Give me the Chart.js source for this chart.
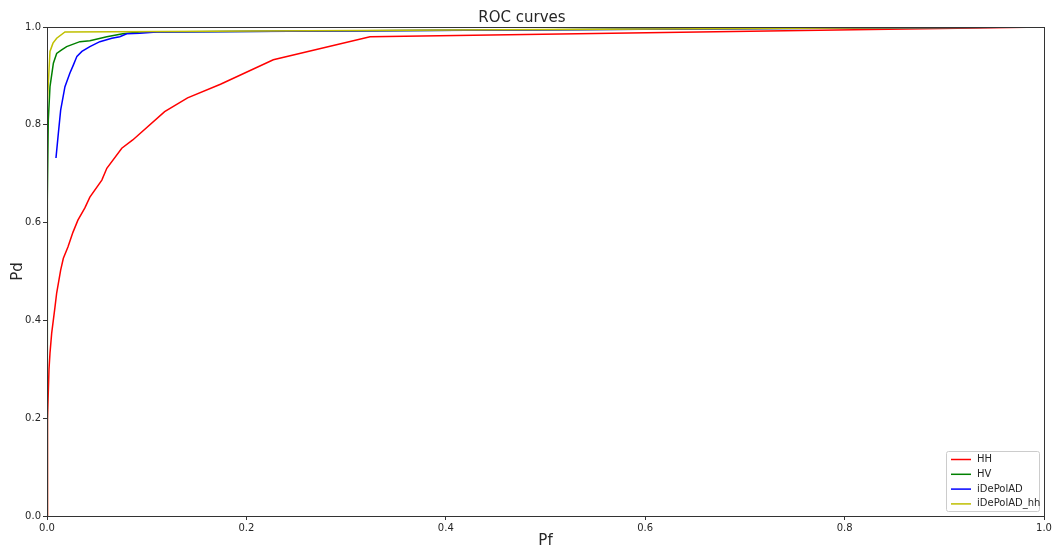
<!DOCTYPE html>
<html>
<head>
<meta charset="utf-8">
<script src="https://cdn.jsdelivr.net/npm/chart.js@4"></script>
<style>
  html, body { margin: 0; padding: 0; background: #fff; }
  #wrap { width: 1057px; height: 550px; }
</style>
</head>
<body>
<div id="wrap"><canvas id="roc"></canvas></div>
<script>
const seriesNames = ['HH', 'HV', 'iDePolAD', 'iDePolAD_hh'];
const seriesColors = ['#ff0000', '#008000', '#0000ff', '#bfbf00'];

const hhPf = [0, 0.0005, 0.002, 0.003, 0.0047, 0.008, 0.0097, 0.0137, 0.0164, 0.021, 0.026, 0.031, 0.038, 0.043, 0.055, 0.06, 0.075, 0.086, 0.118, 0.141, 0.174, 0.227, 0.324, 1];
const hhPd = [0, 0.2, 0.3, 0.333, 0.374, 0.427, 0.456, 0.503, 0.527, 0.55, 0.58, 0.605, 0.63, 0.652, 0.687, 0.711, 0.752, 0.769, 0.827, 0.855, 0.883, 0.933, 0.98, 1];

const hvPf = [0, 0.0003, 0.0013, 0.003, 0.0064, 0.0097, 0.0147, 0.0197, 0.033, 0.043, 0.06, 0.076, 0.093, 1];
const hvPd = [0, 0.646, 0.81, 0.878, 0.926, 0.946, 0.953, 0.96, 0.97, 0.972, 0.98, 0.986, 0.99, 1];

const adPf = [0.009, 0.0114, 0.0137, 0.018, 0.023, 0.0264, 0.03, 0.035, 0.043, 0.053, 0.065, 0.073, 0.08, 0.093, 0.11, 1];
const adPd = [0.732, 0.783, 0.83, 0.878, 0.906, 0.922, 0.94, 0.95, 0.96, 0.97, 0.977, 0.98, 0.986, 0.987, 0.99, 1];

const hhadPf = [0, 0.0003, 0.003, 0.006, 0.0097, 0.018, 1];
const hhadPd = [0, 0.844, 0.95, 0.967, 0.977, 0.99, 1];

const xTicks = [0, 0.2, 0.4, 0.6, 0.8, 1.0];
const yTicks = [0, 0.2, 0.4, 0.6, 0.8, 1.0];

function toPoints(xs, ys) {
    return xs.map((x, i) => ({ x: x, y: ys[i] }));
}

const allX = [hhPf, hvPf, adPf, hhadPf];
const allY = [hhPd, hvPd, adPd, hhadPd];

const datasets = seriesNames.map((name, i) => ({
    label: name,
    data: toPoints(allX[i], allY[i]),
    borderColor: seriesColors[i],
    backgroundColor: seriesColors[i],
    borderWidth: 1.5,
    pointRadius: 0,
    showLine: true,
    fill: false,
    tension: 0,
    order: seriesNames.length - i
}));

const FONT = "'DejaVu Sans', sans-serif";
const INK = '#262626';

// top/right spines like matplotlib
const frame = {
    id: 'frame',
    afterDraw(chart) {
        const { ctx, chartArea: a } = chart;
        ctx.save();
        ctx.strokeStyle = '#333';
        ctx.lineWidth = 1;
        ctx.strokeRect(Math.round(a.left) + 0.5, Math.round(a.top) + 0.5, Math.round(a.right - a.left), Math.round(a.bottom - a.top));
        ctx.restore();
    }
};

// legend in lower right, inside the axes
const cornerLegend = {
    id: 'cornerLegend',
    afterDraw(chart) {
        const { ctx, chartArea: a } = chart;
        const boxW = 93, rowH = 16, boxH = seriesNames.length * rowH - 4;
        const x0 = a.right - boxW - 5, y0 = a.bottom - boxH - 5;
        ctx.save();
        ctx.fillStyle = 'rgba(255,255,255,0.8)';
        ctx.strokeStyle = '#cccccc';
        ctx.lineWidth = 1;
        ctx.beginPath();
        ctx.roundRect(x0 + 0.5, y0 + 0.5, boxW, boxH, 2);
        ctx.fill();
        ctx.stroke();
        ctx.font = '10px ' + FONT;
        ctx.textBaseline = 'middle';
        seriesNames.forEach((name, i) => {
            const y = y0 + 8.5 + i * 14.8;
            ctx.strokeStyle = seriesColors[i];
            ctx.lineWidth = 1.5;
            ctx.beginPath();
            ctx.moveTo(x0 + 5, y);
            ctx.lineTo(x0 + 25, y);
            ctx.stroke();
            ctx.fillStyle = INK;
            ctx.fillText(name, x0 + 31, y);
        });
        ctx.restore();
    }
};

new Chart(document.getElementById('roc'), {
    type: 'scatter',
    data: { datasets: datasets },
    options: {
        responsive: true,
        maintainAspectRatio: false,
        animation: false,
        layout: { padding: { left: 0, right: 13, top: 0, bottom: 0 } },
        plugins: {
            legend: { display: false },
            tooltip: { enabled: false },
            title: {
                display: true,
                text: 'ROC curves',
                color: INK,
                font: { family: FONT, size: 15, weight: 'normal' },
                padding: { top: 9, bottom: 0 }
            }
        },
        scales: {
            x: {
                type: 'linear',
                min: 0,
                max: 1,
                afterBuildTicks: scale => { scale.ticks = xTicks.map(v => ({ value: v })); },
                afterFit: scale => { scale.height = 34; },
                ticks: {
                    color: INK,
                    font: { family: FONT, size: 10 },
                    padding: 2,
                    maxRotation: 0,
                    callback: v => v.toFixed(1)
                },
                grid: { drawOnChartArea: false, drawTicks: true, tickLength: 4, color: '#333' },
                border: { display: true, color: '#333' },
                title: {
                    display: true,
                    text: 'Pf',
                    color: INK,
                    font: { family: FONT, size: 15 },
                    padding: { top: 0, bottom: 0 }
                }
            },
            y: {
                type: 'linear',
                min: 0,
                max: 1,
                afterBuildTicks: scale => { scale.ticks = yTicks.map(v => ({ value: v })); },
                afterFit: scale => { scale.width = 47; },
                ticks: {
                    color: INK,
                    font: { family: FONT, size: 10 },
                    padding: 2,
                    callback: v => v.toFixed(1)
                },
                grid: { drawOnChartArea: false, drawTicks: true, tickLength: 4, color: '#333' },
                border: { display: true, color: '#333' },
                title: {
                    display: true,
                    text: 'Pd',
                    color: INK,
                    font: { family: FONT, size: 15 },
                    padding: { top: 9, bottom: 0 }
                }
            }
        }
    },
    plugins: [frame, cornerLegend]
});
</script>
</body>
</html>
